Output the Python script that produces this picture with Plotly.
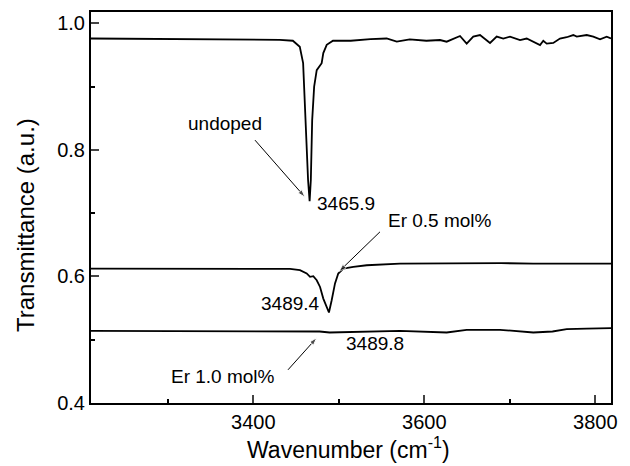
import plotly.graph_objects as go

# ---- data ----
wn_undoped = [3210.2, 3250, 3300, 3350, 3400, 3431, 3446.3, 3454.4, 3458.3, 3460.3, 3462.3,
              3464.1, 3465.9, 3467.3, 3468.9, 3471.2, 3474.2, 3477.2, 3480.0, 3481.9, 3485.9,
              3493.2, 3514, 3537, 3556, 3567.8, 3583, 3602.5, 3618.4, 3626.2, 3634, 3641.8,
              3649.6, 3657.3, 3665.2, 3676.9, 3684.7, 3692.4, 3700.3, 3712, 3719.8, 3727.5,
              3735.4, 3739.2, 3743.2, 3750.9, 3758.7, 3766.6, 3774.3, 3778.3, 3790, 3797.7,
              3805.6, 3813.4, 3818.4]
t_undoped = [0.976, 0.9755, 0.976, 0.975, 0.9745, 0.974, 0.9725, 0.963, 0.937, 0.874, 0.795,
             0.752, 0.719, 0.752, 0.847, 0.900, 0.926, 0.931, 0.937, 0.953, 0.966,
             0.9725, 0.9725, 0.975, 0.976, 0.971, 0.9747, 0.9725, 0.9736, 0.971, 0.976, 0.980,
             0.968, 0.979, 0.9815, 0.969, 0.979, 0.976, 0.979, 0.9736, 0.976, 0.971,
             0.9657, 0.9725, 0.968, 0.969, 0.976, 0.978, 0.9815, 0.979, 0.9815, 0.979,
             0.9747, 0.979, 0.976]

wn_er05 = [3210.2, 3280, 3337.7, 3400, 3443, 3454.6, 3462.5, 3466.4, 3470.2, 3474.2, 3478.1,
           3481.9, 3488.5, 3491.7, 3495.6, 3499.4, 3505.3, 3517, 3532.7, 3571.6, 3610,
           3649.6, 3690, 3727.5, 3770, 3818.4]
t_er05 = [0.6125, 0.6122, 0.6122, 0.6122, 0.612, 0.610, 0.6047, 0.5993, 0.6004, 0.594, 0.5834,
          0.565, 0.543, 0.5624, 0.589, 0.6046, 0.6125, 0.615, 0.6177, 0.6204, 0.6208,
          0.6213, 0.621, 0.6204, 0.6206, 0.6204]

wn_er10 = [3210.2, 3300, 3400, 3477.6, 3489.3, 3532.4, 3571.6, 3626.2, 3649.6, 3688.6,
           3727.5, 3750, 3766.6, 3790, 3818.4]
t_er10 = [0.5141, 0.5141, 0.5141, 0.513, 0.5114, 0.513, 0.5141, 0.5114, 0.5157, 0.5157,
          0.5114, 0.513, 0.5168, 0.5175, 0.5184]

x_ticks = [3400, 3600, 3800]
y_ticks = [0.4, 0.6, 0.8, 1.0]
y_tick_labels = ["0.4", "0.6", "0.8", "1.0"]

# labels: text, x, y
label_texts = ["undoped", "3465.9", "Er 0.5 mol%", "3489.4", "3489.8", "Er 1.0 mol%"]
label_x = [3367, 3508.5, 3618.4, 3443, 3542.4, 3365]
label_y = [0.8423, 0.7158, 0.689, 0.5568, 0.4936, 0.4418]

# arrows: tail (x, y) -> head (x, y)
arrow_tail_x = [3402.0, 3548.2, 3440.6]
arrow_tail_y = [0.8154, 0.6705, 0.4524]
arrow_head_x = [3460.5, 3500.3, 3474.2]
arrow_head_y = [0.7253, 0.6079, 0.503]

FONT = "Liberation Sans, Arial, Helvetica, sans-serif"

fig = go.Figure()
for wx, ty in [(wn_undoped, t_undoped), (wn_er05, t_er05), (wn_er10, t_er10)]:
    fig.add_trace(go.Scatter(x=wx, y=ty, mode="lines",
                             line=dict(color="black", width=1.8), showlegend=False,
                             hoverinfo="skip"))

# arrows drawn as short lines with an arrow-shaped marker at the head
for tx, ty, hx, hy in zip(arrow_tail_x, arrow_tail_y, arrow_head_x, arrow_head_y):
    fig.add_trace(go.Scatter(x=[tx, hx], y=[ty, hy], mode="lines+markers",
                             line=dict(color="black", width=1),
                             marker=dict(symbol="arrow", size=[0, 8], angleref="previous",
                                         color="black"),
                             showlegend=False, hoverinfo="skip"))

annotations = []
for txt, x, y in zip(label_texts, label_x, label_y):
    annotations.append(dict(x=x, y=y, xref="x", yref="y", text=txt, showarrow=False,
                            font=dict(family=FONT, size=19, color="black")))
# axis titles
annotations.append(dict(x=-0.127, y=0.455, xref="paper", yref="paper",
                        text="Transmittance (a.u.)", textangle=-90, showarrow=False,
                        xanchor="center", yanchor="middle",
                        font=dict(family=FONT, size=24, color="black")))
annotations.append(dict(x=0.496, y=-0.116, xref="paper", yref="paper",
                        text="Wavenumber (cm<sup>-1</sup>)", showarrow=False,
                        xanchor="center", yanchor="middle",
                        font=dict(family=FONT, size=23, color="black")))

fig.update_layout(
    width=630, height=466,
    margin=dict(l=91, r=19, t=12, b=63),
    paper_bgcolor="white", plot_bgcolor="white",
    font=dict(family=FONT, color="black", size=20),
    annotations=annotations,
)
fig.update_xaxes(
    range=[3210.2, 3818.4], tickvals=x_ticks, ticks="inside", ticklen=8, tickwidth=1.5,
    minor=dict(tickvals=[3300, 3500, 3700], ticks="inside", ticklen=4, tickwidth=1.5,
               tickcolor="black"),
    showline=True, linecolor="black", linewidth=2, mirror=True, showgrid=False,
    zeroline=False, tickfont=dict(size=20), automargin=False,
)
fig.update_yaxes(
    range=[0.4, 1.0179], tickvals=y_ticks, ticktext=y_tick_labels, ticks="inside",
    ticklen=8, tickwidth=1.5, automargin=False,
    minor=dict(tickvals=[0.5, 0.7, 0.9], ticks="inside", ticklen=4, tickwidth=1.5,
               tickcolor="black"),
    showline=True, linecolor="black", linewidth=2, mirror=True, showgrid=False,
    zeroline=False, tickfont=dict(size=20),
)

fig.write_html("out.html")
